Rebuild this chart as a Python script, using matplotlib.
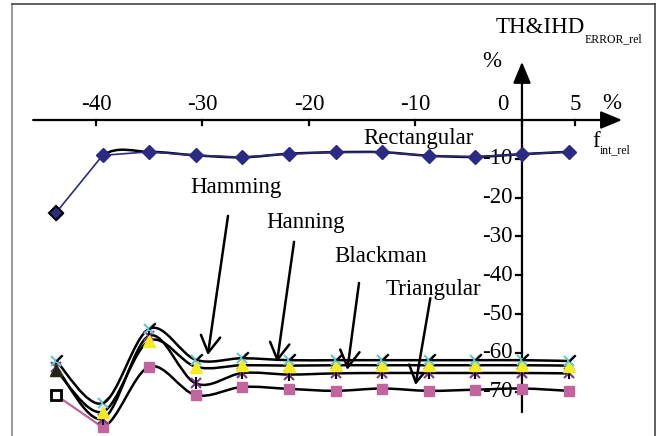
import matplotlib
matplotlib.use('Agg')
import matplotlib.pyplot as plt
from matplotlib.path import Path
from matplotlib.patches import PathPatch
from matplotlib.lines import Line2D

plt.rcParams['font.family'] = ['Liberation Serif', 'DejaVu Serif']

# relative interharmonic frequency (%)
f_int_rel = [-43.75, -39.375, -35.0, -30.625, -26.25, -21.875, -17.5, -13.125, -8.75, -4.375, 0.0, 4.375]

# TH&IHD relative error (%) for each window
rectangular = [-23.9, -9.1, -8.2, -9.1, -9.6, -8.7, -8.3, -8.3, -9.2, -9.5, -8.8, -8.2]
hamming = [-62.0, -73.0, -53.8, -61.8, -61.4, -61.9, -61.9, -61.9, -61.9, -61.9, -61.9, -62.1]
hanning = [-64.5, -75.2, -56.9, -63.6, -63.2, -63.3, -63.2, -63.2, -63.2, -63.2, -63.2, -63.3]
blackman = [-63.6, -77.0, -55.6, -67.9, -65.2, -65.6, -65.3, -65.2, -65.2, -65.2, -65.2, -65.3]
triangular = [-70.9, -79.2, -63.6, -70.9, -68.8, -69.3, -69.8, -69.2, -69.8, -69.5, -69.2, -69.8]

x_ticks = [-40, -30, -20, -10, 0, 5]
y_ticks = [-10, -20, -30, -40, -50, -60, -70]

navy = '#2b2a84'
cyan = '#62c6d6'
yellow = '#f4ec22'
purple = '#84308c'
pink = '#c2649e'


def smooth_path(xs, ys, skip=0):
    # excel-like smoothed line (catmull-rom as cubic bezier), first `skip` segments not drawn
    pts = list(zip(xs, ys))
    n = len(pts)
    verts = [pts[skip]]
    codes = [Path.MOVETO]
    for i in range(skip, n - 1):
        p0 = pts[i - 1] if i > 0 else pts[i]
        p1 = pts[i]
        p2 = pts[i + 1]
        p3 = pts[i + 2] if i + 2 < n else p2
        c1 = (p1[0] + (p2[0] - p0[0]) / 6, p1[1] + (p2[1] - p0[1]) / 6)
        c2 = (p2[0] - (p3[0] - p1[0]) / 6, p2[1] - (p3[1] - p1[1]) / 6)
        verts += [c1, c2, p2]
        codes += [Path.CURVE4] * 3
    return Path(verts, codes)


fig = plt.figure(figsize=(6.6, 4.36), dpi=100)
ax = fig.add_axes([0, 0, 1, 1])
ax.set_xlim(-49.01, 12.96)
ax.set_ylim(-81.44, 30.93)
ax.axis('off')

# frame round the picture
fig.add_artist(Line2D([12/660, 12/660], [0, 1 - 4/436], transform=fig.transFigure, color='#8a8a8a', lw=1.2))
fig.add_artist(Line2D([12/660, 655/660], [1 - 4/436, 1 - 4/436], transform=fig.transFigure, color='#444444', lw=1.2))
fig.add_artist(Line2D([655/660, 655/660], [0, 1 - 4/436], transform=fig.transFigure, color='#444444', lw=1.2))

# axes with arrows
head = dict(arrowstyle='-|>,head_length=0.65,head_width=0.27', lw=1.6, color='black',
            mutation_scale=20, shrinkA=0, shrinkB=0)
ax.annotate('', xy=(9.4, 0), xytext=(-45.9, 0), arrowprops=head)
ax.annotate('', xy=(0, 15.0), xytext=(0, -75.3), arrowprops=head)

for t in x_ticks:
    ax.plot([t, t], [0, -1.3], color='black', lw=1.6)
    lx = -1.8 if t == 0 else t
    ax.text(lx, 2.6, str(t), ha='center', va='baseline', fontsize=16.5)
for t in y_ticks:
    ax.plot([-0.6, 0], [t, t], color='black', lw=1.6)
    ax.text(-0.85, t, str(t), ha='right', va='center', fontsize=16.5)

ax.text(-2.5, 22.4, 'TH&IHD', ha='left', va='baseline', fontsize=16.5)
ax.text(5.9, 20.1, 'ERROR_rel', ha='left', va='baseline', fontsize=8.5)
ax.text(-2.8, 13.7, '%', ha='center', va='baseline', fontsize=16.5)
ax.text(8.4, 2.8, '%', ha='center', va='baseline', fontsize=16.5)
ax.text(6.6, -7.0, 'f', ha='left', va='baseline', fontsize=16.5)
ax.text(7.35, -8.5, 'int_rel', ha='left', va='baseline', fontsize=8.5)

# smoothed black lines
for ys, skip in [(rectangular, 1), (hamming, 0), (hanning, 0), (blackman, 0), (triangular, 1)]:
    ax.add_patch(PathPatch(smooth_path(f_int_rel, ys, skip), fill=False,
                           edgecolor='black', lw=1.8, zorder=2))

# straight coloured lines
ax.plot(f_int_rel, rectangular, color=navy, lw=1.2, zorder=3)
ax.plot(f_int_rel[:2], triangular[:2], color=pink, lw=1.6, zorder=3)

# markers
ax.plot(f_int_rel, rectangular, ls='none', marker='D', ms=7, color=navy, zorder=5)
ax.plot(f_int_rel[:1], rectangular[:1], ls='none', marker='D', ms=7, mfc=navy, mec='black', mew=1.5, zorder=6)

ax.plot(f_int_rel, triangular, ls='none', marker='s', ms=7.5, color=pink, zorder=5)
ax.plot(f_int_rel[:1], triangular[:1], ls='none', marker='s', ms=6.5, mfc='white', mec='black', mew=2, zorder=6)

ax.plot(f_int_rel, blackman, ls='none', marker='x', ms=7, mew=1.5, color=purple, zorder=5)
ax.plot(f_int_rel, blackman, ls='none', marker='|', ms=9, mew=1.5, color='black', zorder=5)

ax.plot(f_int_rel, hanning, ls='none', marker='^', ms=8, color=yellow, zorder=5)
ax.plot(f_int_rel[:1], hanning[:1], ls='none', marker='^', ms=8, color='#222222', zorder=6)

slash = [(0, 0), (1, 1)]
ax.plot(f_int_rel, hamming, ls='none', marker='x', ms=7, mew=1.5, color=cyan, zorder=5)
ax.plot(f_int_rel, hamming, ls='none', marker=slash, ms=9, mew=1.6, color='black', zorder=6)

# window labels with arrows
arrow = dict(arrowstyle='->,head_length=0.6,head_width=0.35', lw=1.8, color='black',
             mutation_scale=20, shrinkA=0, shrinkB=0)
labels = [('Hamming', -26.9, -18.8, (-27.6, -24.7), (-29.5, -60.6)),
          ('Hanning', -20.3, -27.8, (-21.4, -31.4), (-23.0, -62.4)),
          ('Blackman', -13.3, -36.6, (-15.3, -42.0), (-16.4, -64.4)),
          ('Triangular', -8.3, -45.1, (-8.6, -45.9), (-10.0, -68.3))]
for name, tx, ty, a0, a1 in labels:
    ax.text(tx, ty, name, ha='center', va='baseline', fontsize=16.5)
    ax.annotate('', xy=a1, xytext=a0, arrowprops=arrow)
ax.text(-9.7, -6.2, 'Rectangular', ha='center', va='baseline', fontsize=16.5)

fig.savefig('out.png', dpi=100)
